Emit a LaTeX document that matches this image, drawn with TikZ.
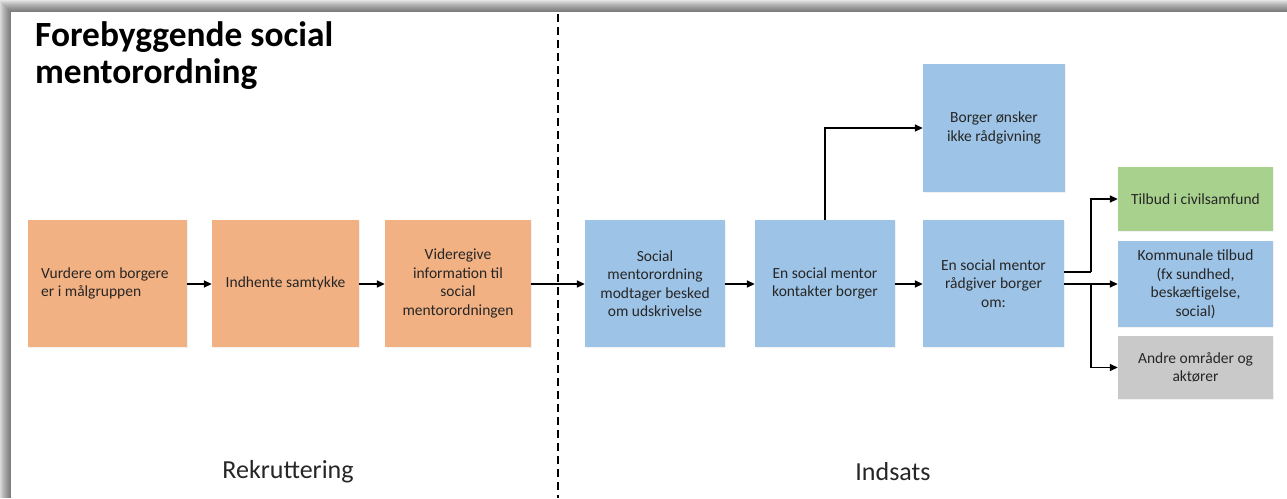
\documentclass[tikz,border=0pt]{standalone}
\usepackage{fontspec}
\setmainfont{Carlito}
\usetikzlibrary{arrows.meta,shadows}
\definecolor{orangebox}{HTML}{F2B183}
\definecolor{bluebox}{HTML}{9DC3E6}
\definecolor{greenbox}{HTML}{A9D18E}
\definecolor{graybox}{HTML}{C9C9C9}
\definecolor{txt}{HTML}{262626}
\begin{document}
\begin{tikzpicture}[x=1pt,y=-1pt,
  box/.style={inner sep=0pt, align=center, text=txt,
    font=\fontsize{15.5}{18.5}\selectfont,
    drop shadow={opacity=0.10, shadow xshift=0.8pt, shadow yshift=-1pt}},
  obox/.style={box, fill=orangebox},
  bbox/.style={box, fill=bluebox},
  gbox/.style={box, fill=greenbox},
  ybox/.style={box, fill=graybox},
  conn/.style={line width=1.6pt, -{Triangle[length=8pt,width=7pt]}},
  phase/.style={font=\fontsize{26}{30}\selectfont, text=txt},
]
\useasboundingbox (0,0) rectangle (1287,498);
% frame with soft shadow
\fill[gray!10] (0,0) rectangle (1287,498);
\foreach \i in {1,...,12} {
  \fill[black,opacity=0.05] (11-\i,12-\i) rectangle (1287,498);
}
\fill[white] (11,12) rectangle (1287,498);

% title
\node[anchor=north west, inner sep=0pt, align=left,
  font=\bfseries\fontsize{35.4}{37}\selectfont] (title) at (35,21)
  {Forebyggende social\\mentorordning};

% divider
\coordinate (dtop) at (558,14);
\coordinate (dbot) at (558,498);
\draw[line width=1.5pt, dash pattern=on 8pt off 5pt] (dtop) -- (dbot);

% recruitment boxes
\node[obox, minimum width=159pt, minimum height=127pt] (o1) at (107.5,283.5) {};
\node[anchor=west, align=left, inner sep=0pt, text=txt,
  font=\fontsize{15.5}{18.5}\selectfont] (o1t) at (41,283.5)
  {Vurdere om borgere\\er i målgruppen};
\node[obox, minimum width=147pt, minimum height=127pt] (o2) at (285.5,283.5) {Indhente samtykke};
\node[obox, minimum width=146pt, minimum height=127pt] (o3) at (458,283.5)
  {Videregive\\information til\\social\\mentorordningen};

% intervention boxes
\node[bbox, minimum width=140pt, minimum height=127pt] (b1) at (655,283.5)
  {Social\\mentorordning\\modtager besked\\om udskrivelse};
\node[bbox, minimum width=140pt, minimum height=127pt] (b2) at (825,283.5)
  {En social mentor\\kontakter borger};
\node[bbox, minimum width=142pt, minimum height=128pt] (b0) at (994,128)
  {Borger ønsker\\ikke rådgivning};
\node[bbox, minimum width=141pt, minimum height=127pt] (b3) at (993.5,283.5)
  {En social mentor\\rådgiver borger\\om:};

\node[gbox, minimum width=155pt, minimum height=64pt] (r1) at (1195.5,199)
  {Tilbud i civilsamfund};
\node[bbox, minimum width=155pt, minimum height=86pt] (r2) at (1195.5,284)
  {Kommunale tilbud\\(fx sundhed,\\beskæftigelse,\\social)};
\node[ybox, minimum width=155pt, minimum height=63pt] (r3) at (1195.5,367.5)
  {Andre områder og\\aktører};

% connectors
\draw[conn] (o1.east |- 0,284) -- (o2.west |- 0,284);
\draw[conn] (o2.east |- 0,284) -- (o3.west |- 0,284);
\draw[conn] (o3.east |- 0,284) -- (b1.west |- 0,284);
\draw[conn] (b1.east |- 0,284) -- (b2.west |- 0,284);
\draw[conn] (b2.east |- 0,284) -- (b3.west |- 0,284);
\draw[conn] (b2.north) |- (b0.west);
\coordinate (s1) at (b3.east |- 0,272);
\coordinate (j1) at (1091,272);
\coordinate (j2) at (1091,284);
\draw[line width=1.6pt] (s1) -- (j1);
\draw[conn] (j1) |- (r1.west);
\draw[conn] (b3.east |- 0,284) -- (r2.west |- 0,284);
\draw[conn] (j2) |- (r3.west);

% phase labels
\node[phase] (p1) at (288,472) {Rekruttering};
\node[phase] (p2) at (893,472) {Indsats};
\end{tikzpicture}
\end{document}
